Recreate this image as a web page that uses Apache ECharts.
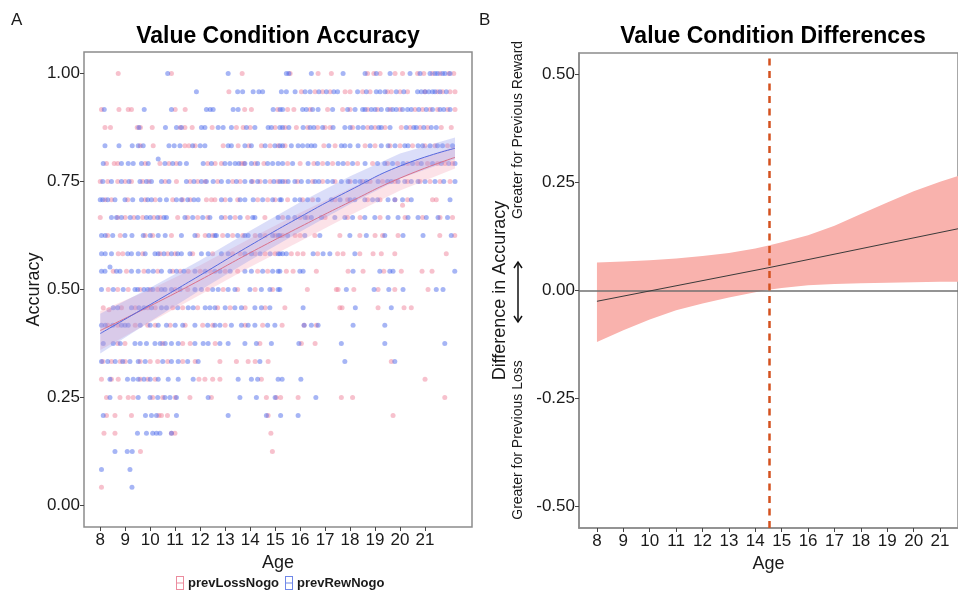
<!DOCTYPE html>
<html>
<head>
<meta charset="utf-8">
<script src="https://cdn.jsdelivr.net/npm/echarts@6/dist/echarts.min.js"></script>
<style>html,body{margin:0;padding:0;background:#fff;}#chart{width:958px;height:593px;}</style>
</head>
<body>
<div id="chart"></div>
<script>
// ---------- Panel A data ----------
const accuracyLevels = [1.000, 0.958, 0.917, 0.875, 0.833, 0.792, 0.750, 0.708, 0.667, 0.625, 0.583, 0.542,
                        0.500, 0.458, 0.417, 0.375, 0.333, 0.292, 0.250, 0.208, 0.167, 0.125, 0.083, 0.042];

const lossAgesByLevel = [
  [8.72, 10.85, 13.68, 15.6, 16.72, 17.25, 18.7, 18.95, 19.2, 19.8, 20.1, 20.7, 20.95, 21.3, 21.6, 21.95, 22.15],
  [13.15, 16.05, 16.6, 16.9, 17.2, 17.8, 18.0, 18.5, 18.8, 19.5, 19.65, 20.0, 20.3, 21.0, 21.5, 21.7, 22.0, 22.2],
  [8.05, 8.75, 9.12, 9.25, 11.0, 11.4, 13.78, 14.05, 15.1, 15.5, 15.75, 16.4, 17.1, 17.7, 18.0, 18.7, 19.1, 19.6, 20.0, 20.6, 20.9, 21.2, 21.5, 21.9, 22.2],
  [8.19, 8.41, 9.48, 9.61, 10.08, 11.2, 11.39, 11.68, 12.48, 13.45, 13.72, 14.0, 15.0, 15.4, 15.85, 16.3, 16.7, 17.0, 17.2, 18.1, 18.7, 19.0, 19.4, 20.05, 20.4, 20.8, 21.1, 21.65, 22.05],
  [9.6, 10.12, 11.39, 11.55, 11.8, 12.92, 13.52, 13.95, 14.45, 14.8, 15.12, 15.4, 16.95, 17.4, 18.6, 19.0, 19.6, 20.0, 20.5, 21.0, 21.4, 21.9],
  [8.25, 8.56, 8.7, 9.8, 10.39, 10.75, 11.05, 12.3, 12.6, 12.85, 13.65, 13.75, 14.2, 14.55, 15.5, 16.0, 16.55, 16.9, 17.3, 17.9, 18.3, 18.9, 19.5, 19.9, 20.3, 20.7, 21.1, 21.5, 21.8, 22.1],
  [8.0, 8.3, 8.7, 9.0, 9.25, 9.7, 9.95, 10.6, 11.05, 11.6, 11.9, 12.2, 12.7, 13.3, 13.6, 14.1, 14.4, 14.8, 15.1, 15.4, 15.9, 16.5, 16.9, 17.4, 18.0, 18.5, 18.8, 19.3, 19.8, 20.3, 20.8, 21.2, 21.6, 22.0],
  [8.2, 8.45, 9.1, 9.8, 10.2, 10.9, 11.3, 11.6, 12.25, 12.45, 12.59, 13.0, 13.5, 14.3, 14.7, 15.0, 15.5, 16.1, 16.5, 17.4, 17.9, 18.7, 19.2, 19.8, 20.3, 21.3, 21.45],
  [8.0, 8.7, 9.0, 9.35, 9.7, 10.15, 10.4, 11.1, 11.5, 11.9, 12.3, 13.0, 13.4, 13.9, 14.59, 15.3, 16.0, 16.3, 17.0, 17.9, 18.4, 19.2, 20.2, 20.9, 21.6, 22.1],
  [8.3, 8.8, 9.8, 10.1, 10.85, 11.9, 12.2, 12.5, 12.9, 13.3, 13.7, 14.2, 14.6, 15.0, 15.3, 15.8, 16.0, 16.59, 17.59, 18.39, 19.0, 19.3, 19.92, 21.59, 22.19],
  [8.72, 8.9, 9.7, 10.4, 10.7, 11.0, 11.7, 12.5, 13.3, 13.6, 14.2, 14.6, 15.0, 15.65, 15.9, 16.12, 16.7, 17.5, 17.72, 18.39, 18.92, 19.25, 19.79, 21.85],
  [8.52, 9.05, 9.75, 10.3, 10.9, 11.2, 11.52, 12.0, 12.4, 13.0, 13.5, 14.3, 14.7, 15.45, 15.72, 16.65, 17.92, 18.52, 19.35, 20.05, 20.88, 21.28],
  [8.32, 8.7, 9.12, 9.6, 10.0, 10.3, 11.0, 11.5, 12.3, 12.92, 13.5, 14.2, 14.9, 16.29, 17.45, 17.52, 18.15, 19.12, 19.79, 21.12],
  [8.12, 8.85, 9.4, 9.9, 10.2, 10.9, 11.3, 11.9, 12.7, 13.2, 13.8, 14.6, 15.39, 17.59, 17.68, 19.12, 20.16, 20.45],
  [8.3, 8.7, 9.4, 9.9, 10.2, 10.8, 11.4, 12.1, 12.5, 13.0, 13.8, 14.5, 15.28, 16.16, 16.65],
  [8.7, 8.99, 10.5, 11.3, 11.6, 12.6, 14.39, 16.05, 16.6],
  [8.1, 8.45, 8.8, 9.0, 9.6, 10.0, 10.3, 10.7, 11.3, 11.8, 12.79, 13.45, 13.92, 14.2, 14.72, 19.65],
  [8.05, 8.45, 8.72, 9.6, 9.9, 10.2, 11.95, 12.19, 12.5, 12.79, 14.45, 21.0],
  [8.25, 8.79, 9.12, 9.32, 10.1, 10.5, 11.0, 11.59, 12.45, 14.65, 15.05, 15.22, 15.92, 17.65, 18.1, 21.79],
  [8.25, 8.59, 9.25, 10.35, 10.45, 10.69, 14.72, 19.72],
  [8.15, 8.59, 10.85, 10.99, 14.83],
  [9.61, 14.89],
  [],
  [8.05]
];

const rewAgesByLevel = [
  [10.7, 13.12, 15.45, 15.55, 16.45, 17.72, 18.6, 19.05, 19.6, 20.4, 20.8, 21.2, 21.4, 21.5, 21.7, 21.8, 22.0],
  [11.85, 13.5, 13.7, 14.12, 14.35, 14.5, 15.25, 15.45, 15.8, 16.2, 16.4, 16.75, 17.05, 17.35, 17.5, 18.3, 18.65, 19.05, 19.2, 19.4, 19.85, 20.15, 20.7, 20.85, 21.0, 21.15, 21.3, 21.4, 21.6, 21.85],
  [8.16, 9.76, 10.85, 12.25, 12.4, 12.52, 13.32, 13.52, 14.92, 15.2, 15.3, 16.1, 16.25, 16.5, 16.72, 17.3, 17.9, 18.2, 18.5, 18.6, 18.85, 19.0, 19.25, 19.5, 19.7, 19.85, 20.1, 20.3, 20.45, 20.75, 21.05, 21.3, 21.6, 21.75, 22.0],
  [9.55, 10.61, 11.05, 11.25, 12.05, 12.19, 12.72, 12.92, 13.25, 13.85, 14.19, 14.72, 14.85, 15.19, 15.3, 15.55, 16.12, 16.4, 16.55, 16.9, 17.32, 17.79, 18.0, 18.32, 18.52, 18.85, 19.15, 19.25, 19.6, 20.25, 20.55, 20.65, 20.95, 21.25, 21.45],
  [8.19, 8.75, 9.28, 9.52, 9.72, 10.75, 10.96, 11.19, 11.7, 12.0, 12.19, 13.12, 13.25, 13.79, 14.05, 14.6, 14.99, 15.19, 15.3, 15.65, 15.92, 16.1, 16.3, 16.45, 16.59, 17.15, 17.65, 17.79, 18.0, 18.32, 18.8, 19.25, 19.52, 19.8, 20.19, 20.32, 20.72, 20.9, 21.2, 21.5, 21.7, 22.1],
  [8.12, 8.85, 9.12, 9.32, 9.65, 9.92, 10.59, 10.9, 11.19, 11.45, 12.12, 12.45, 12.99, 13.19, 13.4, 13.55, 13.79, 14.05, 14.3, 14.7, 14.9, 15.12, 15.3, 15.7, 16.32, 16.7, 17.1, 17.52, 17.72, 18.1, 18.6, 19.1, 19.39, 19.7, 20.12, 20.5, 20.85, 21.3, 21.65, 21.95, 22.2],
  [8.1, 8.45, 8.85, 9.15, 9.59, 9.85, 10.05, 10.45, 10.75, 11.45, 11.75, 12.05, 12.25, 12.52, 12.85, 13.12, 13.45, 13.79, 14.05, 14.3, 14.6, 14.95, 15.19, 15.3, 15.52, 15.79, 16.05, 16.32, 16.6, 16.75, 17.1, 17.3, 17.65, 17.92, 18.2, 18.4, 18.65, 19.12, 19.5, 19.65, 19.92, 20.19, 20.45, 20.72, 21.0, 21.4, 21.75, 22.2],
  [8.0, 8.1, 8.3, 8.59, 8.99, 9.3, 9.65, 9.9, 10.05, 10.39, 10.65, 11.05, 11.25, 11.5, 11.75, 11.92, 12.85, 13.2, 13.6, 13.79, 14.12, 14.5, 14.9, 15.19, 15.25, 15.79, 15.99, 16.3, 16.72, 17.25, 17.6, 18.0, 18.19, 18.59, 18.9, 19.1, 19.52, 19.79, 20.1, 20.45, 22.0],
  [8.45, 8.65, 8.85, 9.2, 9.5, 9.85, 10.0, 10.3, 10.55, 10.65, 11.39, 11.7, 12.1, 12.39, 12.85, 13.2, 13.6, 14.1, 14.19, 15.12, 15.52, 15.79, 16.2, 16.45, 16.85, 17.39, 17.79, 18.1, 18.59, 18.99, 19.52, 19.92, 20.32, 20.72, 21.05, 21.52, 21.9],
  [8.05, 8.2, 8.5, 8.99, 9.27, 9.72, 10.0, 10.32, 10.6, 11.25, 11.79, 12.35, 12.59, 12.65, 13.1, 13.5, 13.79, 13.92, 14.4, 14.9, 15.19, 15.12, 15.5, 16.19, 16.79, 17.99, 18.65, 19.39, 20.12, 20.92, 22.05],
  [8.05, 8.2, 8.45, 9.1, 9.25, 9.52, 9.8, 10.19, 10.32, 10.55, 10.85, 11.1, 11.25, 11.59, 12.05, 12.32, 12.85, 13.12, 13.79, 14.05, 14.4, 14.8, 15.19, 15.12, 15.3, 15.45, 16.52, 16.92, 17.19, 18.19],
  [8.05, 8.19, 8.65, 8.79, 9.25, 9.52, 9.92, 10.12, 10.45, 10.79, 11.05, 11.35, 11.79, 12.2, 12.59, 12.79, 13.2, 13.79, 14.05, 14.5, 14.9, 15.19, 15.12, 15.99, 16.12, 18.12, 19.19, 19.59, 19.72, 22.19],
  [8.05, 8.52, 8.92, 9.39, 9.5, 9.75, 9.9, 10.1, 10.45, 10.59, 10.85, 11.2, 11.79, 12.05, 12.5, 12.72, 13.12, 13.39, 13.99, 14.45, 14.79, 15.19, 15.12, 17.85, 18.96, 19.55, 20.12, 21.45, 21.72],
  [8.52, 8.7, 9.25, 9.55, 9.75, 10.05, 10.45, 10.65, 11.1, 11.52, 11.72, 12.2, 12.39, 12.59, 13.0, 13.39, 13.65, 14.19, 14.45, 14.79, 16.12, 18.21, 19.65],
  [8.05, 8.2, 8.5, 8.85, 8.99, 9.12, 9.6, 10.0, 10.32, 10.65, 11.0, 11.3, 11.79, 12.3, 12.59, 12.79, 13.25, 13.65, 13.92, 14.19, 14.7, 14.99, 16.16, 16.45, 16.72, 18.12, 19.39],
  [8.12, 8.52, 8.8, 9.39, 9.6, 9.85, 10.19, 10.4, 10.6, 10.85, 11.12, 11.79, 12.12, 12.32, 12.79, 13.12, 13.79, 14.25, 14.85, 15.95, 17.65, 19.39, 21.79],
  [8.05, 8.3, 8.6, 8.9, 9.19, 9.52, 9.8, 10.5, 10.85, 11.12, 11.5, 11.92, 14.39, 17.79, 19.79],
  [8.39, 9.09, 9.32, 9.52, 9.75, 10.0, 10.32, 10.72, 11.12, 11.72, 13.52, 14.05, 14.3, 15.12, 15.28, 16.03],
  [8.39, 9.52, 9.99, 10.3, 10.59, 10.79, 11.05, 12.32, 13.59, 14.25, 15.0, 16.63],
  [8.12, 9.81, 10.05, 10.25, 11.05, 13.12, 14.65, 15.22, 15.92],
  [9.49, 9.85, 10.1, 10.25, 10.39, 10.85],
  [8.59, 9.08, 9.28],
  [8.05, 9.19],
  [9.27]
];

const lossExtraPoints = [[20.1, 0.695], [8.35, 0.453]];
const rewExtraPoints = [[10.32, 0.802], [8.39, 0.552]];

// smooth fits with confidence bands (panel A)
const fitAges   = [8, 10, 12, 14, 16, 18, 20, 22.2];
const lossFit   = [0.405, 0.462, 0.522, 0.585, 0.645, 0.703, 0.758, 0.806];
const lossUpper = [0.450, 0.500, 0.556, 0.618, 0.678, 0.734, 0.787, 0.832];
const lossLower = [0.360, 0.424, 0.488, 0.552, 0.612, 0.672, 0.729, 0.780];
const rewFit    = [0.398, 0.465, 0.533, 0.602, 0.668, 0.730, 0.786, 0.827];
const rewUpper  = [0.444, 0.504, 0.568, 0.636, 0.702, 0.762, 0.815, 0.852];
const rewLower  = [0.352, 0.426, 0.498, 0.568, 0.634, 0.698, 0.757, 0.802];

// ---------- Panel B data ----------
const diffAges  = [8, 9, 10, 11, 12, 13, 14, 14.5, 15, 16, 17, 18, 19, 20, 21, 21.68];
const diffUpper = [0.065, 0.067, 0.070, 0.074, 0.080, 0.087, 0.097, 0.104, 0.112, 0.128, 0.150, 0.177, 0.204, 0.230, 0.252, 0.265];
const diffLower = [-0.119, -0.092, -0.067, -0.046, -0.030, -0.016, -0.004, 0.002, 0.006, 0.012, 0.015, 0.017, 0.018, 0.019, 0.020, 0.020];
const diffFitAges = [8, 14.52, 21.68];
const diffFit     = [-0.025, 0.053, 0.143];
const significanceAge = 14.52;

// ---------- ticks ----------
const ageTicks = [8, 9, 10, 11, 12, 13, 14, 15, 16, 17, 18, 19, 20, 21];
const accTicks = [0, 0.25, 0.5, 0.75, 1.0];
const diffTicks = [-0.5, -0.25, 0, 0.25, 0.5];

// ---------- build ----------
function levelPoints(agesByLevel, extra) {
  const pts = [];
  agesByLevel.forEach((ages, i) => ages.forEach(a => pts.push([a, accuracyLevels[i]])));
  extra.forEach(p => pts.push(p));
  return pts;
}
function ribbon(ages, lower, upper, fill, xi, yi, z) {
  return {
    type: 'custom', xAxisIndex: xi, yAxisIndex: yi, z: z, silent: true, clip: true,
    data: [[ages[0], lower[0]]], encode: { x: 0, y: 1 },
    renderItem: function (params, api) {
      const pts = [];
      for (let i = 0; i < ages.length; i++) pts.push(api.coord([ages[i], upper[i]]));
      for (let i = ages.length - 1; i >= 0; i--) pts.push(api.coord([ages[i], lower[i]]));
      return { type: 'polygon', shape: { points: pts }, style: { fill: fill } };
    }
  };
}
const zip = (xs, ys) => xs.map((x, i) => [x, ys[i]]);

const FONT = "'Liberation Sans', Arial, Helvetica, sans-serif";
const TXT = '#1a1a1a';
const iconPath = 'path://M0,0H8V14H0Z M1,1V6.5H7V1Z M1,7.5V13H7V7.5Z';

const chart = echarts.init(document.getElementById('chart'), null, { renderer: 'canvas' });
const option = {
  animation: false,
  backgroundColor: '#ffffff',
  textStyle: { fontFamily: FONT },
  grid: [
    { left: 84, top: 52, width: 388, height: 475, show: true, borderColor: '#8c8c8c', borderWidth: 1.5, backgroundColor: 'transparent' },
    { left: 579, top: 53, right: -3, height: 475, show: true, borderColor: '#8c8c8c', borderWidth: 1.5, backgroundColor: 'transparent' }
  ],
  xAxis: [
    { gridIndex: 0, type: 'value', min: 7.35, max: 22.88, splitLine: { show: false }, axisLine: { show: false, onZero: false },
      axisTick: { show: true, customValues: ageTicks, length: 4, lineStyle: { color: '#444', width: 1 } },
      axisLabel: { customValues: ageTicks, fontSize: 17, color: TXT, margin: 5, fontFamily: FONT },
      name: 'Age', nameLocation: 'middle', nameGap: 20, nameTextStyle: { fontSize: 18, color: TXT, fontFamily: FONT } },
    { gridIndex: 1, type: 'value', min: 7.32, max: 21.68, splitLine: { show: false },
      axisLine: { show: true, onZero: false, lineStyle: { color: '#8c8c8c', width: 1.5 } },
      axisTick: { show: true, customValues: ageTicks, length: 4, lineStyle: { color: '#444', width: 1 } },
      axisLabel: { customValues: ageTicks, fontSize: 17, color: TXT, margin: 5, fontFamily: FONT },
      name: 'Age', nameLocation: 'middle', nameGap: 20, nameTextStyle: { fontSize: 18, color: TXT, fontFamily: FONT } }
  ],
  yAxis: [
    { gridIndex: 0, type: 'value', min: -0.05, max: 1.05, splitLine: { show: false }, axisLine: { show: false, onZero: false },
      axisTick: { show: true, customValues: accTicks, length: 4, lineStyle: { color: '#444', width: 1 } },
      axisLabel: { customValues: accTicks, fontSize: 17, color: TXT, margin: 4, fontFamily: FONT, formatter: v => v.toFixed(2) },
      name: 'Accuracy', nameLocation: 'middle', nameGap: 41, nameTextStyle: { fontSize: 18, color: TXT, fontFamily: FONT } },
    { gridIndex: 1, type: 'value', min: -0.55, max: 0.55, splitLine: { show: false },
      axisLine: { show: true, onZero: false, lineStyle: { color: '#8c8c8c', width: 1.5 } },
      axisTick: { show: true, customValues: diffTicks, length: 4, lineStyle: { color: '#444', width: 1 } },
      axisLabel: { customValues: diffTicks, fontSize: 17, color: TXT, margin: 4, fontFamily: FONT, formatter: v => v.toFixed(2) },
      name: 'Difference in Accuracy', nameLocation: 'middle', nameGap: 70, nameTextStyle: { fontSize: 18, color: TXT, fontFamily: FONT } }
  ],
  legend: {
    left: 176, top: 576, itemWidth: 8, itemHeight: 14, itemGap: 6, padding: 0,
    textStyle: { fontSize: 13, fontWeight: 'bold', color: TXT, fontFamily: FONT, padding: [0, 0, 0, -1] },
    data: [
      { name: 'prevLossNogo', icon: iconPath, itemStyle: { color: 'rgb(236,140,158)', opacity: 1 } },
      { name: 'prevRewNogo', icon: iconPath, itemStyle: { color: 'rgb(110,135,232)', opacity: 1 } }
    ]
  },
  series: [
    { name: 'prevLossNogo', type: 'scatter', xAxisIndex: 0, yAxisIndex: 0, symbolSize: 5, z: 2,
      itemStyle: { color: 'rgba(238,125,150,0.6)' }, data: levelPoints(lossAgesByLevel, lossExtraPoints) },
    { name: 'prevRewNogo', type: 'scatter', xAxisIndex: 0, yAxisIndex: 0, symbolSize: 5, z: 2,
      itemStyle: { color: 'rgba(70,100,235,0.6)' }, data: levelPoints(rewAgesByLevel, rewExtraPoints) },
    ribbon(fitAges, lossLower, lossUpper, 'rgba(245,160,178,0.30)', 0, 0, 3),
    ribbon(fitAges, rewLower, rewUpper, 'rgba(135,145,235,0.30)', 0, 0, 3),
    { type: 'line', xAxisIndex: 0, yAxisIndex: 0, smooth: true, symbol: 'none', z: 4, silent: true,
      lineStyle: { color: '#d9708a', width: 1 }, data: zip(fitAges, lossFit) },
    { type: 'line', xAxisIndex: 0, yAxisIndex: 0, smooth: true, symbol: 'none', z: 4, silent: true,
      lineStyle: { color: '#5468e0', width: 1 }, data: zip(fitAges, rewFit) },
    ribbon(diffAges, diffLower, diffUpper, '#f9b2ad', 1, 1, 2),
    { type: 'line', xAxisIndex: 1, yAxisIndex: 1, symbol: 'none', z: 5, silent: true,
      lineStyle: { color: '#3a3a3a', width: 1 }, data: zip(diffFitAges, diffFit),
      markLine: { silent: true, symbol: 'none', label: { show: false }, animation: false,
        data: [
          { yAxis: 0, lineStyle: { color: '#707070', width: 1.5, type: 'solid' } },
          { xAxis: significanceAge, lineStyle: { color: '#d4521f', width: 2.5, type: [7, 5.5] } }
        ] } }
  ],
  graphic: [
    { type: 'text', x: 11, y: 20, style: { text: 'A', font: "17px " + FONT, fill: TXT, verticalAlign: 'middle' } },
    { type: 'text', x: 479, y: 20, style: { text: 'B', font: "17px " + FONT, fill: TXT, verticalAlign: 'middle' } },
    { type: 'text', x: 278, y: 37, style: { text: 'Value Condition Accuracy', font: "bold 23px " + FONT, fill: '#000', align: 'center', verticalAlign: 'middle' } },
    { type: 'text', x: 773, y: 37, style: { text: 'Value Condition Differences', font: "bold 23px " + FONT, fill: '#000', align: 'center', verticalAlign: 'middle' } },
    { type: 'text', x: 518, y: 130, rotation: Math.PI / 2, style: { text: 'Greater for Previous Reward', font: "14px " + FONT, fill: TXT, align: 'center', verticalAlign: 'middle' } },
    { type: 'text', x: 518, y: 440, rotation: Math.PI / 2, style: { text: 'Greater for Previous Loss', font: "14px " + FONT, fill: TXT, align: 'center', verticalAlign: 'middle' } },
    { type: 'line', shape: { x1: 518, y1: 262, x2: 518, y2: 322 }, style: { stroke: '#111', lineWidth: 1.5 } },
    { type: 'polyline', shape: { points: [[514, 268], [518, 262], [522, 268]] }, style: { stroke: '#111', lineWidth: 1.5, fill: null } },
    { type: 'polyline', shape: { points: [[514, 316], [518, 322], [522, 316]] }, style: { stroke: '#111', lineWidth: 1.5, fill: null } }
  ]
};
chart.setOption(option);
</script>
</body>
</html>
